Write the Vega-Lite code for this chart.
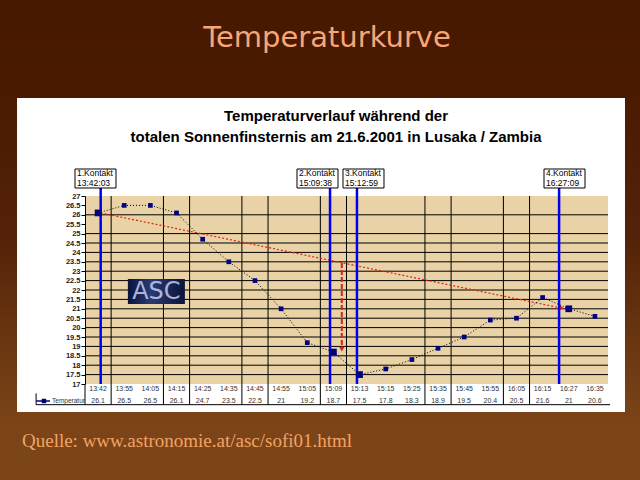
{
  "$schema": "https://vega.github.io/schema/vega-lite/v6.json",
  "width": 523,
  "height": 188,
  "autosize": {"type": "none"},
  "padding": {"left": 85, "top": 196, "right": 32, "bottom": 96},
  "background": "#4a1a00",
  "resolve": {"axis": {"y": "independent"}},
  "config": {
    "view": {"stroke": null},
    "font": "Liberation Sans",
    "axisY": {"labelOverlap": false, "labelSeparation": 0, "zindex": 1, "grid": false, "title": null, "labelFont": "Liberation Sans", "labelFontSize": 7.5, "labelFontWeight": "bold", "labelColor": "#222222", "labelPadding": 1, "tickSize": 4, "tickColor": "#000000", "domainColor": "#000000", "labelBound": false, "labelFlush": false, "format": ".1~f"}
  },
  "datasets": {
    "temp": [
      {"i": 0, "zeit": "13:42", "temp": 26.1, "kontakt": true},
      {"i": 1, "zeit": "13:55", "temp": 26.5, "kontakt": false},
      {"i": 2, "zeit": "14:05", "temp": 26.5, "kontakt": false},
      {"i": 3, "zeit": "14:15", "temp": 26.1, "kontakt": false},
      {"i": 4, "zeit": "14:25", "temp": 24.7, "kontakt": false},
      {"i": 5, "zeit": "14:35", "temp": 23.5, "kontakt": false},
      {"i": 6, "zeit": "14:45", "temp": 22.5, "kontakt": false},
      {"i": 7, "zeit": "14:55", "temp": 21, "kontakt": false},
      {"i": 8, "zeit": "15:05", "temp": 19.2, "kontakt": false},
      {"i": 9, "zeit": "15:09", "temp": 18.7, "kontakt": true},
      {"i": 10, "zeit": "15:13", "temp": 17.5, "kontakt": true},
      {"i": 11, "zeit": "15:15", "temp": 17.8, "kontakt": false},
      {"i": 12, "zeit": "15:25", "temp": 18.3, "kontakt": false},
      {"i": 13, "zeit": "15:35", "temp": 18.9, "kontakt": false},
      {"i": 14, "zeit": "15:45", "temp": 19.5, "kontakt": false},
      {"i": 15, "zeit": "15:55", "temp": 20.4, "kontakt": false},
      {"i": 16, "zeit": "16:05", "temp": 20.5, "kontakt": false},
      {"i": 17, "zeit": "16:15", "temp": 21.6, "kontakt": false},
      {"i": 18, "zeit": "16:27", "temp": 21, "kontakt": true},
      {"i": 19, "zeit": "16:35", "temp": 20.6, "kontakt": false}
    ],
    "kontakte": [
      {"name": "1.Kontakt", "zeit": "13:42:03", "pos": 0.1},
      {"name": "2.Kontakt", "zeit": "15:09:38", "pos": 8.87},
      {"name": "3.Kontakt", "zeit": "15:12:59", "pos": 9.9},
      {"name": "4.Kontakt", "zeit": "16:27:09", "pos": 17.63}
    ],
    "raster_h": [
      {"y": 17.5}, {"y": 18}, {"y": 18.5}, {"y": 19}, {"y": 19.5}, {"y": 20}, {"y": 20.5}, {"y": 21}, {"y": 21.5}, {"y": 22}, {"y": 22.5}, {"y": 23}, {"y": 23.5}, {"y": 24}, {"y": 24.5}, {"y": 25}, {"y": 26}
    ],
    "raster_v": [
      {"x": 0.5}, {"x": 2.5}, {"x": 3.5}, {"x": 5.5}, {"x": 6.5}, {"x": 8.5}, {"x": 9.5}, {"x": 12.5}, {"x": 13.5}, {"x": 15.5}, {"x": 16.5}
    ]
  },
  "layer": [
    {
      "data": {"values": [{}]},
      "mark": {"type": "rect", "fill": {"gradient": "linear", "x1": 0, "y1": 0, "x2": 0, "y2": 1, "stops": [
        {"offset": 0, "color": "#461800"},
        {"offset": 0.23, "color": "#4a1b01"},
        {"offset": 0.5, "color": "#542208"},
        {"offset": 0.7, "color": "#6a3610"},
        {"offset": 0.85, "color": "#7a4418"},
        {"offset": 1, "color": "#7c4619"}
      ]}},
      "encoding": {
        "x": {"datum": -4, "type": "quantitative", "scale": {"domain": [-0.5, 19.5], "nice": false, "zero": false}, "axis": null},
        "x2": {"datum": 21},
        "y": {"datum": 38.5, "type": "quantitative", "scale": {"domain": [17, 27], "nice": false, "zero": false}, "axis": null},
        "y2": {"datum": 11}
      }
    },
    {
      "data": {"values": [{}]},
      "mark": {"type": "rect", "fill": "#ffffff"},
      "encoding": {
        "x": {"datum": -3.1, "type": "quantitative", "axis": null},
        "x2": {"datum": 20.15},
        "y": {"datum": 32.21, "type": "quantitative", "axis": null},
        "y2": {"datum": 15.51}
      }
    },
    {
      "data": {"values": [{}]},
      "mark": {"type": "rect", "fill": "#e8d2a6"},
      "encoding": {
        "x": {"datum": -0.5, "type": "quantitative", "axis": null},
        "x2": {"datum": 19.5},
        "y": {"datum": 27, "type": "quantitative", "axis": null},
        "y2": {"datum": 17}
      }
    },
    {
      "data": {"name": "raster_h"},
      "mark": {"type": "rule", "color": "#000000", "strokeWidth": 1},
      "encoding": {
        "x": {"datum": -0.5, "type": "quantitative", "axis": null},
        "x2": {"datum": 19.5},
        "y": {"field": "y", "type": "quantitative", "title": null,
          "axis": {"title": null, "values": [17, 17.5, 18, 18.5, 19, 19.5, 20, 20.5, 21, 21.5, 22, 22.5, 23, 23.5, 24, 24.5, 25, 25.5, 26, 26.5, 27], "format": ".1~f", "grid": false, "zindex": 1, "labelOverlap": false, "labelSeparation": 0, "labelFontSize": 7.5, "labelFontWeight": "bold", "labelColor": "#222222", "labelPadding": 1, "tickSize": 4, "tickColor": "#000000", "domainColor": "#000000"}}
      }
    },
    {
      "data": {"name": "raster_v"},
      "mark": {"type": "rule", "color": "#000000", "strokeWidth": 1},
      "encoding": {
        "x": {"field": "x", "type": "quantitative", "axis": null, "title": null},
        "y": {"datum": 15.9, "type": "quantitative", "axis": null},
        "y2": {"datum": 27}
      }
    },
    {
      "data": {"values": [{}]},
      "layer": [
        {
          "mark": {"type": "text", "text": "Temperaturkurve", "align": "center", "baseline": "alphabetic", "fontSize": 29, "font": "DejaVu Sans", "color": "#f7a678"},
          "encoding": {"x": {"datum": 8.754, "type": "quantitative", "axis": null}, "y": {"datum": 34.926, "type": "quantitative", "axis": null}}
        },
        {
          "mark": {"type": "rule", "color": "#000000", "strokeWidth": 1},
          "encoding": {"x": {"datum": -2.37, "type": "quantitative", "axis": null}, "x2": {"datum": 19.58}, "y": {"datum": 15.9, "type": "quantitative", "axis": null}}
        },
        {
          "mark": {"type": "rule", "color": "#000000", "strokeWidth": 1},
          "encoding": {"x": {"datum": -2.37, "type": "quantitative", "axis": null}, "y": {"datum": 15.9, "type": "quantitative", "axis": null}, "y2": {"datum": 16.5}}
        },
        {
          "mark": {"type": "rule", "color": "#000000", "strokeWidth": 1},
          "encoding": {"x": {"datum": -0.5, "type": "quantitative", "axis": null}, "y": {"datum": 15.9, "type": "quantitative", "axis": null}, "y2": {"datum": 17}}
        },
        {
          "mark": {"type": "rule", "color": "#000080", "strokeWidth": 1.5},
          "encoding": {"x": {"datum": -2.37, "type": "quantitative", "axis": null}, "x2": {"datum": -1.84}, "y": {"datum": 16.096, "type": "quantitative", "axis": null}}
        },
        {
          "mark": {"type": "point", "shape": "square", "filled": true, "color": "#000080", "size": 20, "opacity": 1},
          "encoding": {"x": {"datum": -2.07, "type": "quantitative", "axis": null}, "y": {"datum": 16.096, "type": "quantitative", "axis": null}}
        },
        {
          "mark": {"type": "text", "text": "Temperatur", "align": "left", "baseline": "middle", "fontSize": 6.5, "color": "#333333"},
          "encoding": {"x": {"datum": -1.76, "type": "quantitative", "axis": null}, "y": {"datum": 16.096, "type": "quantitative", "axis": null}}
        },
        {
          "mark": {"type": "rect", "fill": {"gradient": "linear", "x1": 0, "y1": 0, "x2": 1, "y2": 0, "stops": [
            {"offset": 0, "color": "#0b1438"},
            {"offset": 0.4, "color": "#2a3a72"},
            {"offset": 1, "color": "#0b1438"}
          ]}},
          "encoding": {"x": {"datum": 1.14, "type": "quantitative", "axis": null}, "x2": {"datum": 3.32}, "y": {"datum": 22.59, "type": "quantitative", "axis": null}, "y2": {"datum": 21.26}}
        },
        {
          "mark": {"type": "text", "text": "ASC", "align": "center", "baseline": "middle", "fontSize": 24, "font": "DejaVu Sans", "color": "#b8c4ee", "opacity": 0.9},
          "encoding": {"x": {"datum": 2.23, "type": "quantitative", "axis": null}, "y": {"datum": 21.9, "type": "quantitative", "axis": null}}
        },
        {
          "mark": {"type": "rule", "color": "#e8200c", "strokeWidth": 1.2, "strokeDash": [2, 2]},
          "encoding": {"x": {"datum": 0.1, "type": "quantitative", "axis": null}, "x2": {"datum": 17.75}, "y": {"datum": 26.1, "type": "quantitative", "axis": null}, "y2": {"datum": 21.03}}
        },
        {
          "mark": {"type": "point", "shape": "triangle-right", "filled": true, "color": "#e8200c", "size": 30, "angle": 12, "opacity": 1},
          "encoding": {"x": {"datum": 17.72, "type": "quantitative", "axis": null}, "y": {"datum": 21.04, "type": "quantitative", "axis": null}}
        },
        {
          "mark": {"type": "rule", "color": "#e02010", "strokeWidth": 2, "strokeDash": [5, 2]},
          "encoding": {"x": {"datum": 9.32, "type": "quantitative", "axis": null}, "y": {"datum": 23.44, "type": "quantitative", "axis": null}, "y2": {"datum": 18.9}}
        },
        {
          "mark": {"type": "point", "shape": "triangle-down", "filled": true, "color": "#e02010", "size": 30, "opacity": 1},
          "encoding": {"x": {"datum": 9.32, "type": "quantitative", "axis": null}, "y": {"datum": 18.85, "type": "quantitative", "axis": null}}
        },
        {
          "mark": {"type": "text", "text": "Temperaturverlauf während der", "align": "center", "baseline": "alphabetic", "fontSize": 15, "fontWeight": "bold", "color": "#000000"},
          "encoding": {"x": {"datum": 9.1, "type": "quantitative", "axis": null}, "y": {"datum": 30.99, "type": "quantitative", "axis": null}}
        },
        {
          "mark": {"type": "text", "text": "totalen Sonnenfinsternis am 21.6.2001 in Lusaka / Zambia", "align": "center", "baseline": "alphabetic", "fontSize": 15, "fontWeight": "bold", "color": "#000000"},
          "encoding": {"x": {"datum": 9.1, "type": "quantitative", "axis": null}, "y": {"datum": 29.87, "type": "quantitative", "axis": null}}
        },
        {
          "mark": {"type": "text", "text": "Quelle: www.astronomie.at/asc/sofi01.html", "align": "left", "baseline": "alphabetic", "fontSize": 19, "font": "Liberation Serif", "color": "#f4a262"},
          "encoding": {"x": {"datum": -2.91, "type": "quantitative", "axis": null}, "y": {"datum": 13.65, "type": "quantitative", "axis": null}}
        }
      ]
    },
    {
      "data": {"name": "kontakte"},
      "mark": {"type": "rule", "color": "#0000f0", "strokeWidth": 2.5},
      "encoding": {
        "x": {"field": "pos", "type": "quantitative", "axis": null, "title": null},
        "y": {"datum": 17, "type": "quantitative", "axis": null},
        "y2": {"datum": 27.43}
      }
    },
    {
      "data": {"name": "kontakte"},
      "transform": [{"filter": "datum.name === '1.Kontakt'"}, {"calculate": "datum.name + '\\n' + datum.zeit", "as": "label"}],
      "layer": [
        {"mark": {"type": "rect", "fill": "#ffffff", "stroke": "#000000", "strokeWidth": 1},
         "encoding": {"x": {"datum": -0.882, "type": "quantitative", "axis": null}, "x2": {"datum": 0.685}, "y": {"datum": 28.436, "type": "quantitative", "axis": null}, "y2": {"datum": 27.426}}},
        {"mark": {"type": "text", "align": "left", "baseline": "alphabetic", "fontSize": 8.5, "lineBreak": "\n", "lineHeight": 10, "color": "#000000"},
         "encoding": {"x": {"datum": -0.806, "type": "quantitative", "axis": null}, "y": {"datum": 28.064, "type": "quantitative", "axis": null}, "text": {"field": "label"}}}
      ]
    },
    {
      "data": {"name": "kontakte"},
      "transform": [{"filter": "datum.name === '2.Kontakt'"}, {"calculate": "datum.name + '\\n' + datum.zeit", "as": "label"}],
      "layer": [
        {"mark": {"type": "rect", "fill": "#ffffff", "stroke": "#000000", "strokeWidth": 1},
         "encoding": {"x": {"datum": 7.607, "type": "quantitative", "axis": null}, "x2": {"datum": 9.175}, "y": {"datum": 28.436, "type": "quantitative", "axis": null}, "y2": {"datum": 27.426}}},
        {"mark": {"type": "text", "align": "left", "baseline": "alphabetic", "fontSize": 8.5, "lineBreak": "\n", "lineHeight": 10, "color": "#000000"},
         "encoding": {"x": {"datum": 7.684, "type": "quantitative", "axis": null}, "y": {"datum": 28.064, "type": "quantitative", "axis": null}, "text": {"field": "label"}}}
      ]
    },
    {
      "data": {"name": "kontakte"},
      "transform": [{"filter": "datum.name === '3.Kontakt'"}, {"calculate": "datum.name + '\\n' + datum.zeit", "as": "label"}],
      "layer": [
        {"mark": {"type": "rect", "fill": "#ffffff", "stroke": "#000000", "strokeWidth": 1},
         "encoding": {"x": {"datum": 9.366, "type": "quantitative", "axis": null}, "x2": {"datum": 10.934}, "y": {"datum": 28.436, "type": "quantitative", "axis": null}, "y2": {"datum": 27.426}}},
        {"mark": {"type": "text", "align": "left", "baseline": "alphabetic", "fontSize": 8.5, "lineBreak": "\n", "lineHeight": 10, "color": "#000000"},
         "encoding": {"x": {"datum": 9.443, "type": "quantitative", "axis": null}, "y": {"datum": 28.064, "type": "quantitative", "axis": null}, "text": {"field": "label"}}}
      ]
    },
    {
      "data": {"name": "kontakte"},
      "transform": [{"filter": "datum.name === '4.Kontakt'"}, {"calculate": "datum.name + '\\n' + datum.zeit", "as": "label"}],
      "layer": [
        {"mark": {"type": "rect", "fill": "#ffffff", "stroke": "#000000", "strokeWidth": 1},
         "encoding": {"x": {"datum": 17.053, "type": "quantitative", "axis": null}, "x2": {"datum": 18.621}, "y": {"datum": 28.436, "type": "quantitative", "axis": null}, "y2": {"datum": 27.426}}},
        {"mark": {"type": "text", "align": "left", "baseline": "alphabetic", "fontSize": 8.5, "lineBreak": "\n", "lineHeight": 10, "color": "#000000"},
         "encoding": {"x": {"datum": 17.13, "type": "quantitative", "axis": null}, "y": {"datum": 28.064, "type": "quantitative", "axis": null}, "text": {"field": "label"}}}
      ]
    },
    {
      "data": {"name": "temp"},
      "mark": {"type": "line", "color": "#000000", "strokeWidth": 1, "strokeDash": [1, 2]},
      "encoding": {
        "x": {"field": "i", "type": "quantitative", "axis": null, "title": null},
        "y": {"field": "temp", "type": "quantitative", "title": null, "axis": null}
      }
    },
    {
      "data": {"name": "temp"},
      "mark": {"type": "point", "shape": "square", "filled": true, "color": "#000080", "opacity": 1},
      "encoding": {
        "x": {"field": "i", "type": "quantitative", "axis": null, "title": null},
        "y": {"field": "temp", "type": "quantitative", "title": null, "axis": null},
        "size": {"condition": {"test": "datum.kontakt", "value": 45}, "value": 22}
      }
    },
    {
      "data": {"name": "temp"},
      "mark": {"type": "text", "align": "center", "baseline": "middle", "fontSize": 7, "color": "#333333"},
      "encoding": {
        "x": {"field": "i", "type": "quantitative", "axis": null, "title": null},
        "y": {"datum": 16.734, "type": "quantitative", "axis": null},
        "text": {"field": "zeit"}
      }
    },
    {
      "data": {"name": "temp"},
      "mark": {"type": "text", "align": "center", "baseline": "middle", "fontSize": 7, "color": "#333333"},
      "encoding": {
        "x": {"field": "i", "type": "quantitative", "axis": null, "title": null},
        "y": {"datum": 16.096, "type": "quantitative", "axis": null},
        "text": {"field": "temp", "type": "quantitative", "format": ".1~f"}
      }
    }
  ]
}
